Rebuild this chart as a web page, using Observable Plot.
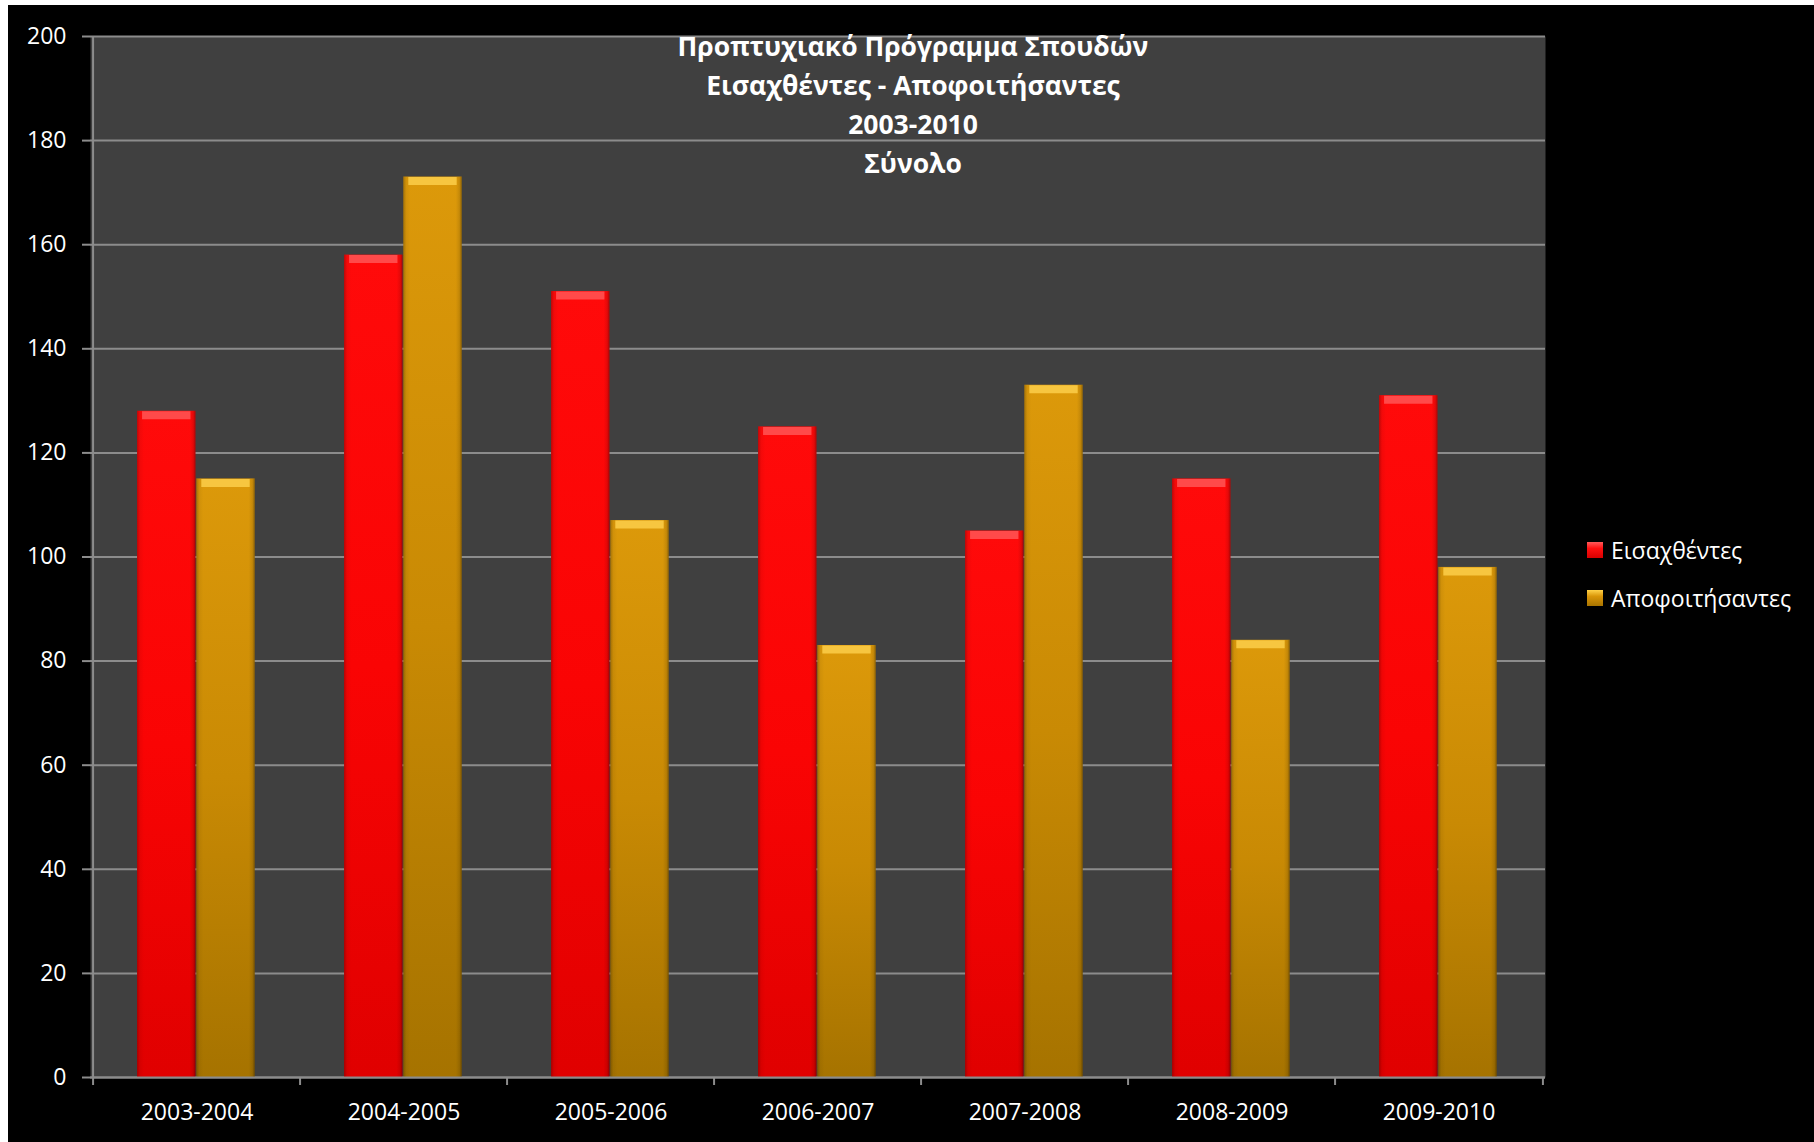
<!DOCTYPE html>
<html>
<head>
<meta charset="utf-8">
<script src="https://cdn.jsdelivr.net/npm/d3@7"></script>
<script src="https://cdn.jsdelivr.net/npm/@observablehq/plot@0.6"></script>
<style>
  body { margin: 0; background: #fff; }
  #chart { position: absolute; left: 8px; top: 5px; width: 1806px; height: 1137px; background: #000; overflow: hidden; font-family: "Open Sans", sans-serif; }
  #chart svg { position: absolute; left: 0; top: 0; }
  #title { position: absolute; left: 0; width: 1810px; top: 22px; text-align: center; color: #fff; font-weight: bold; font-size: 26.5px; line-height: 39px; }
  #legend { position: absolute; left: 1579px; top: 521px; color: #fff; font-size: 23px; }
  .item { height: 48px; display: flex; align-items: center; }
  .sw { width: 16px; height: 16px; margin-right: 8px; }
</style>
</head>
<body>
<div id="chart">
  <div id="title"></div>
  <div id="legend"></div>
</div>
<script>
const categories = ["2003-2004", "2004-2005", "2005-2006", "2006-2007", "2007-2008", "2008-2009", "2009-2010"];
const seriesNames = ["Εισαχθέντες", "Αποφοιτήσαντες"];
const admitted = [128, 158, 151, 125, 105, 115, 131];
const graduated = [115, 173, 107, 83, 133, 84, 98];
const yTicks = [0, 20, 40, 60, 80, 100, 120, 140, 160, 180, 200];
const titleLines = ["Προπτυχιακό Πρόγραμμα Σπουδών", "Εισαχθέντες - Αποφοιτήσαντες", "2003-2010", "Σύνολο"];

const seriesFill = ["url(#gRed)", "url(#gGold)"];
const seriesBevel = ["#ff4a4a", "#f7c640"];
const swatchCss = [
  "linear-gradient(#ff5a5a 0%, #ff1010 40%, #d80000 100%)",
  "linear-gradient(#ffd24a 0%, #d99508 40%, #a87400 100%)"
];

const W = 1806, H = 1137;
const mL = 82, mR = 269, mT = 31, mB = 65;
const step = (W - mL - mR) / categories.length;

const rows = [admitted, graduated].map((vals, s) =>
  categories.map((c, i) => ({cat: c, series: seriesNames[s], value: vals[i]}))
);
const insets = [
  {insetLeft: step * 0.212, insetRight: step * 0.503},
  {insetLeft: step * 0.497, insetRight: step * 0.218}
];

const defs = () => {
  const d = d3.create("svg:defs");
  const lin = (id, stops, horiz) => {
    const g = d.append("linearGradient").attr("id", id)
      .attr("x1", 0).attr("y1", 0).attr("x2", horiz ? 1 : 0).attr("y2", horiz ? 0 : 1);
    stops.forEach(([o, c, op]) => g.append("stop").attr("offset", o).attr("stop-color", c).attr("stop-opacity", op ?? 1));
  };
  lin("gRed", [[0, "#ff0a0a"], [0.5, "#fa0404"], [1, "#e00000"]]);
  lin("gGold", [[0, "#dc990a"], [0.5, "#c98a04"], [1, "#a67300"]]);
  lin("gEdge", [[0, "#000", 0.25], [0.05, "#000", 0.05], [0.12, "#000", 0], [0.9, "#000", 0], [0.96, "#000", 0.1], [1, "#000", 0.35]], true);
  lin("gBevR", [[0, "#ff6a6a"], [1, "#ff2a2a"]]);
  lin("gBevG", [[0, "#ffd54a"], [1, "#e6a81c"]]);
  return d.node();
};

const marks = [
  defs,
  Plot.frame({fill: "#404040", stroke: null}),
  Plot.ruleY(yTicks, {stroke: "#8c8c8c", strokeWidth: 2})
];
rows.forEach((data, s) => {
  marks.push(Plot.barY(data, {x: "cat", y: "value", fill: seriesFill[s], ...insets[s]}));
  marks.push(Plot.barY(data, {x: "cat", y: "value", fill: "url(#gEdge)", ...insets[s]}));
  marks.push(Plot.tickY(data, {x: "cat", y: "value", stroke: seriesBevel[s], strokeWidth: 8, dy: 4,
    insetLeft: insets[s].insetLeft + 5, insetRight: insets[s].insetRight + 5}));
});
marks.push(
  Plot.ruleX(categories.slice(0, 1), {stroke: "#8c8c8c", strokeWidth: 2, dx: -step / 2}),
  Plot.ruleY([0], {stroke: "#8c8c8c", strokeWidth: 2}),
  Plot.ruleX(categories, {y1: 0, y2: 0, insetBottom: -8, stroke: "#8c8c8c", strokeWidth: 2, dx: -step / 2}),
  Plot.ruleX(categories.slice(-1), {y1: 0, y2: 0, insetBottom: -8, stroke: "#8c8c8c", strokeWidth: 2, dx: step / 2}),
  Plot.axisY({ticks: yTicks, tickSize: 8, tickPadding: 16, stroke: "#8c8c8c", fill: "#fff", strokeWidth: 2, label: null, fontSize: 23}),
  Plot.axisX({tickSize: 0, tickPadding: 26, fill: "#fff", label: null, fontSize: 23})
);

const chart = Plot.plot({
  width: W, height: H,
  marginLeft: mL, marginRight: mR, marginTop: mT, marginBottom: mB,
  style: {background: "transparent", color: "#fff", fontFamily: "'Open Sans', sans-serif", fontSize: "23px"},
  x: {type: "band", domain: categories, padding: 0},
  y: {domain: [0, 200]},
  marks
});
document.getElementById("chart").prepend(chart);

const t = document.getElementById("title");
titleLines.forEach(l => { const d = document.createElement("div"); d.textContent = l; t.appendChild(d); });

const lg = document.getElementById("legend");
seriesNames.forEach((n, i) => {
  const it = document.createElement("div"); it.className = "item";
  const sw = document.createElement("div"); sw.className = "sw"; sw.style.background = swatchCss[i];
  const tx = document.createElement("span"); tx.textContent = n;
  it.appendChild(sw); it.appendChild(tx); lg.appendChild(it);
});
</script>
</body>
</html>
